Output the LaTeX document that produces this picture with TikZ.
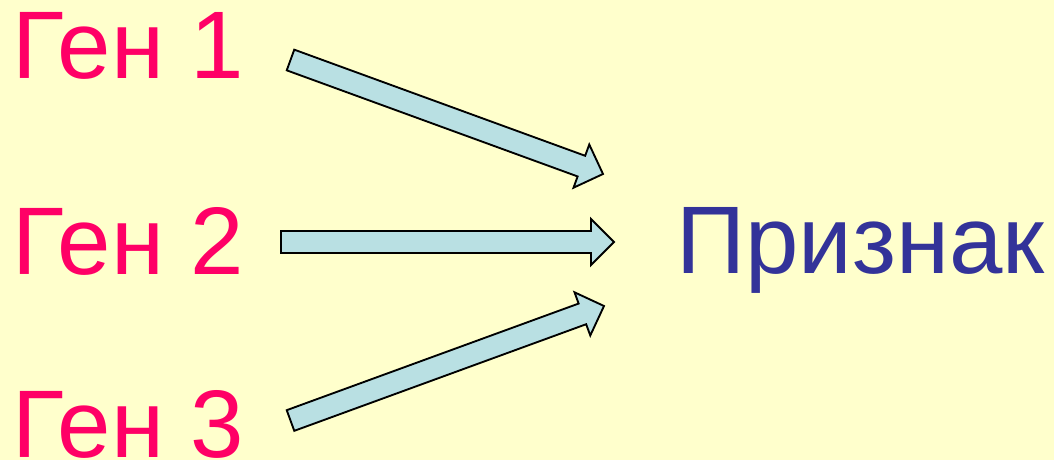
\documentclass[tikz,border=0pt]{standalone}
\usepackage{fontspec}
\setmainfont{Liberation Sans}
\usetikzlibrary{calc}
\definecolor{bg}{HTML}{FFFFCC}
\definecolor{genc}{HTML}{FF0066}
\definecolor{traitc}{HTML}{333399}
\definecolor{arrowfill}{HTML}{B9E0E3}
\tikzset{
  gene/.style={anchor=base west, inner sep=0pt, text=genc, font=\fontsize{72}{80}\selectfont},
  trait/.style={anchor=base west, inner sep=0pt, text=traitc, font=\fontsize{72}{80}\selectfont},
  blockarr/.style={draw=black, fill=arrowfill, line width=1.4pt, line join=miter},
}
\newcommand{\shaftw}{8.25pt}
\newcommand{\headw}{17.25pt}
\newcommand{\headl}{17.25pt}
\newcommand{\blockarrow}[2]{%
  \path coordinate (hb) at ($(#2)!\headl!(#1)$);
  \draw[blockarr] ($(#1)!\shaftw!90:(#2)$) -- ($(hb)!\shaftw!90:(#2)$) -- ($(hb)!\headw!90:(#2)$) -- (#2)
    -- ($(hb)!\headw!-90:(#2)$) -- ($(hb)!\shaftw!-90:(#2)$) -- ($(#1)!\shaftw!-90:(#2)$) -- cycle;
}
\begin{document}
\begin{tikzpicture}[x=0.75pt,y=-0.75pt]
\fill[bg] (0,0) rectangle (1054,460);
\useasboundingbox (0,0) rectangle (1054,460);
\node[gene] (g1) at (12,79) {Ген 1};
\node[gene] (g2) at (12,274) {Ген 2};
\node[gene] (g3) at (12,457) {Ген 3};
\node[trait] (p) at (676,273) {Признак};
\coordinate (t1) at (290.5,60);
\coordinate (h1) at (603,174);
\coordinate (t2) at (281,242);
\coordinate (h2) at (614,242);
\coordinate (t3) at (290.5,420.5);
\coordinate (h3) at (604,306);
\blockarrow{t1}{h1}
\blockarrow{t2}{h2}
\blockarrow{t3}{h3}
\end{tikzpicture}
\end{document}
